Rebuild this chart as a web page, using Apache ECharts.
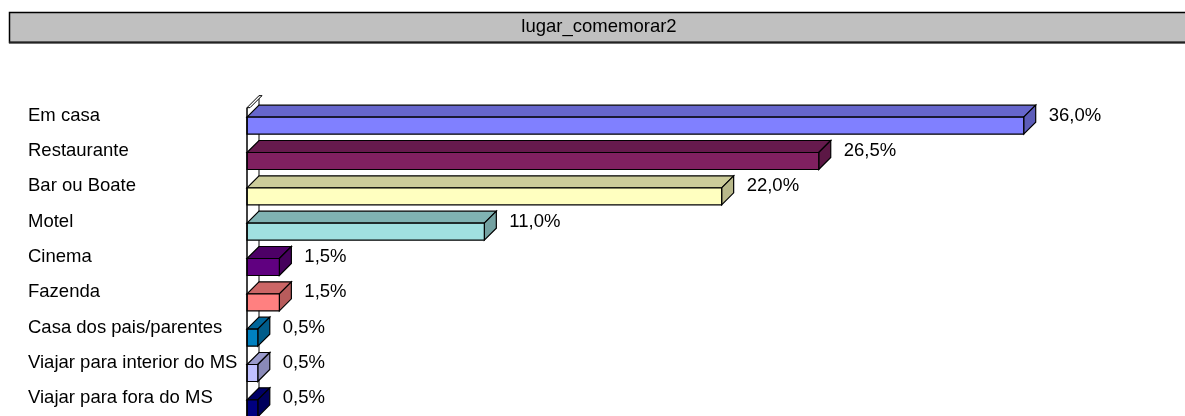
<!DOCTYPE html>
<html>
<head>
<meta charset="utf-8">
<script src="https://cdn.jsdelivr.net/npm/echarts@6/dist/echarts.min.js"></script>
<style>
html,body{margin:0;padding:0;background:#fff;}
#chart{width:1185px;height:416px;}
</style>
</head>
<body>
<div id="chart"></div>
<script>
const titleText = 'lugar_comemorar2';
const categories = ['Em casa','Restaurante','Bar ou Boate','Motel','Cinema','Fazenda','Casa dos pais/parentes','Viajar para interior do MS','Viajar para fora do MS'];
const values = [36.0, 26.5, 22.0, 11.0, 1.5, 1.5, 0.5, 0.5, 0.5];
const colors = ['#8080FF','#802060','#FFFFC0','#A0E0E0','#600080','#FF8080','#0080C0','#C0C0FF','#000080'];

const FONT = 'Liberation Sans, Arial, sans-serif';
const FS = 18.5;

function shade(hex, f) {
  const n = parseInt(hex.slice(1), 16);
  const r = Math.round(((n >> 16) & 255) * f);
  const g = Math.round(((n >> 8) & 255) * f);
  const b = Math.round((n & 255) * f);
  return 'rgb(' + r + ',' + g + ',' + b + ')';
}

const chart = echarts.init(document.getElementById('chart'), null, {renderer: 'canvas'});

const D = 12;   // depth offset
const H = 17;   // front face height

function renderItem(params, api) {
  const v = api.value(0);
  const i = api.value(1);
  const p1 = api.coord([v, i]);
  const p0 = api.coord([0, i]);
  const x0 = p0[0], x1 = p1[0], yc = p1[1];
  const top = yc + 1.5, bot = top + H;
  const c = colors[i];
  const stroke = {stroke: '#000', lineWidth: 1.2};
  return {
    type: 'group',
    children: [
      {type: 'polygon', shape: {points: [[x0, top], [x1, top], [x1 + D, top - D], [x0 + D, top - D]]},
       style: Object.assign({fill: shade(c, 0.8)}, stroke)},
      {type: 'polygon', shape: {points: [[x1, top], [x1 + D, top - D], [x1 + D, bot - D], [x1, bot]]},
       style: Object.assign({fill: shade(c, 0.72)}, stroke)},
      {type: 'rect', shape: {x: x0, y: top, width: x1 - x0, height: H},
       style: Object.assign({fill: c}, stroke)},
      {type: 'text', x: x1 + D + 13, y: yc,
       style: {text: v.toFixed(1).replace('.', ',') + '%', fill: '#000', font: FS + 'px ' + FONT,
               verticalAlign: 'middle', align: 'left'}}
    ]
  };
}

chart.setOption({
  animation: false,
  backgroundColor: '#fff',
  grid: {left: 247, right: 75, top: 98, height: 322.5, containLabel: false},
  xAxis: {type: 'value', min: 0, max: 40, show: false},
  yAxis: {
    type: 'category', data: categories, inverse: true,
    axisLine: {show: false}, axisTick: {show: false}, splitLine: {show: false},
    axisLabel: {align: 'left', margin: 219, color: '#000', fontSize: FS, fontFamily: FONT}
  },
  series: [{
    type: 'custom', z: 5, clip: false,
    renderItem: renderItem,
    encode: {x: 0, y: 1},
    data: values.map((v, i) => [v, i])
  }]
});

const x0 = chart.convertToPixel({xAxisIndex: 0}, 0);
const y0 = chart.convertToPixel({yAxisIndex: 0}, 0);
chart.setOption({
  graphic: [
    {type: 'rect', z: 0, shape: {x: 9.5, y: 12.5, width: 1185, height: 30},
     style: {fill: '#C0C0C0', stroke: '#000', lineWidth: 1.5}},
    {type: 'line', z: 1, shape: {x1: 9, y1: 42.5, x2: 1185, y2: 42.5}, style: {stroke: '#222', lineWidth: 2}},
    {type: 'text', z: 2, x: 599, y: 27,
     style: {text: titleText, fill: '#000', font: FS + 'px ' + FONT, align: 'center', verticalAlign: 'middle'}},
    {type: 'line', z: 1, shape: {x1: x0 + D, y1: y0 - 20, x2: x0 + D, y2: 430}, style: {stroke: '#000', lineWidth: 1}},
    {type: 'polygon', z: 1, shape: {points: [[x0, y0 - 8], [x0 + D, y0 - 20], [x0 + D + 3, y0 - 20], [x0 + 3, y0 - 8]]},
     style: {fill: '#fff', stroke: '#000', lineWidth: 1}},
    {type: 'line', z: 10, shape: {x1: x0, y1: y0 - 8, x2: x0, y2: 430}, style: {stroke: '#000', lineWidth: 1.5}}
  ]
});
</script>
</body>
</html>
